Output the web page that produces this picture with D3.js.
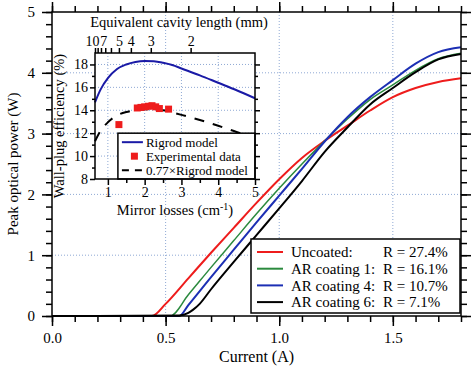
<!DOCTYPE html>
<html>
<head>
<meta charset="utf-8">
<script src="https://cdn.jsdelivr.net/npm/d3@7"></script>
<style>
  body { margin: 0; background: #fff; }
  svg { display: block; }
  .grid line { stroke: #8fa9d4; stroke-width: 1; stroke-dasharray: 1,2; }
  .axis path { display: none; }
  .axis line { stroke: #000; stroke-width: 1.5; }
  .axis text { font-family: 'Liberation Serif', serif; fill: #000; }
  text { font-family: 'Liberation Serif', serif; fill: #000; }
</style>
</head>
<body>
<div id="chart"></div>
<script>
// main plot: peak power vs current
const uncoatedI = [0, 0.44, 0.5, 0.6, 0.7, 0.8, 0.9, 1.0, 1.1, 1.2, 1.3, 1.4, 1.5, 1.6, 1.7, 1.8];
const uncoatedP = [0, 0, 0.2, 0.62, 1.04, 1.45, 1.86, 2.25, 2.6, 2.88, 3.13, 3.38, 3.6, 3.75, 3.85, 3.91];
const ar1I = [0, 0.52, 0.6, 0.7, 0.8, 0.9, 1.0, 1.1, 1.2, 1.3, 1.4, 1.5, 1.6, 1.7, 1.8];
const ar1P = [0, 0, 0.35, 0.8, 1.24, 1.68, 2.1, 2.5, 2.88, 3.24, 3.56, 3.8, 4.04, 4.23, 4.32];
const ar4I = [0, 0.56, 0.6, 0.7, 0.8, 0.9, 1.0, 1.1, 1.2, 1.3, 1.4, 1.5, 1.6, 1.7, 1.8];
const ar4P = [0, 0, 0.18, 0.64, 1.09, 1.54, 1.98, 2.42, 2.87, 3.27, 3.6, 3.88, 4.15, 4.34, 4.42];
const ar6I = [0, 0.56, 0.6, 0.62, 0.65, 0.7, 0.8, 0.9, 1.0, 1.1, 1.2, 1.3, 1.4, 1.5, 1.6, 1.7, 1.8];
const ar6P = [0, 0.01, 0.05, 0.1, 0.2, 0.44, 0.89, 1.33, 1.77, 2.22, 2.7, 3.1, 3.48, 3.75, 4.01, 4.22, 4.31];

const seriesNames = ['Uncoated:', 'AR coating 1:', 'AR coating 4:', 'AR coating 6:'];
const seriesR = ['R = 27.4%', 'R = 16.1%', 'R = 10.7%', 'R = 7.1%'];
const seriesColors = ['#ee1c1c', '#2b8a3e', '#1c2fb4', '#000000'];

const xTicks = [0, 0.5, 1.0, 1.5];
const yTicks = [0, 1, 2, 3, 4, 5];

// inset: wall-plug efficiency vs mirror losses
const lossModel = [0.65, 0.8, 1.0, 1.25, 1.5, 1.75, 2.0, 2.25, 2.5, 2.75, 3.0, 3.5, 4.0, 4.5, 5.0];
const effRigrod = [14.7, 15.8, 16.8, 17.6, 18.0, 18.22, 18.3, 18.28, 18.15, 17.95, 17.65, 17.05, 16.4, 15.75, 15.05];
const effScaled = [11.3, 12.2, 12.95, 13.55, 13.85, 14.0, 14.1, 14.05, 14.0, 13.8, 13.6, 13.15, 12.65, 12.1, 11.6];
const lossExp = [1.3, 1.8, 1.9, 2.0, 2.1, 2.2, 2.3, 2.4, 2.65];
const effExp = [12.75, 14.2, 14.25, 14.3, 14.35, 14.4, 14.3, 14.15, 14.1];

const insetXTicks = [1, 2, 3, 4, 5];
const insetYTicks = [8, 10, 12, 14, 16, 18];
const cavityTicks = [10, 9, 8, 7, 6, 5, 4, 3, 2];
const cavityLabels = [10, 7, 5, 4, 3, 2];
const insetLegend = ['Rigrod model', 'Experimental data', '0.77\u00d7Rigrod model'];

const W = 472;
const H = 368;
const margin = { left: 52, top: 12, right: 11, bottom: 52 };
const width = W - margin.left - margin.right;
const height = H - margin.top - margin.bottom;

const svg = d3.select('#chart').append('svg')
  .attr('width', W)
  .attr('height', H);

const x = d3.scaleLinear().domain([0, 1.8]).range([0, width]);
const y = d3.scaleLinear().domain([0, 5]).range([height, 0]);

const g = svg.append('g')
  .attr('transform', `translate(${margin.left},${margin.top})`);

// grid
const grid = g.append('g').attr('class', 'grid');
grid.selectAll('.gx').data([0.5, 1.0, 1.5]).enter().append('line')
  .attr('x1', (d) => x(d)).attr('x2', (d) => x(d))
  .attr('y1', 0).attr('y2', height);
grid.selectAll('.gy').data([1, 2, 3, 4]).enter().append('line')
  .attr('x1', 0).attr('x2', width)
  .attr('y1', (d) => y(d)).attr('y2', (d) => y(d));

function styleAxis(sel, size) {
  sel.attr('font-size', null).attr('font-family', null);
  sel.selectAll('text').style('font-size', `${size}px`);
}

// main axes, ticks pointing outward
g.append('g').attr('class', 'axis')
  .attr('transform', `translate(0,${height})`)
  .call(d3.axisBottom(x).tickValues(xTicks).tickSize(10).tickPadding(6).tickFormat(d3.format('.1f')))
  .call(styleAxis, 15);
g.append('g').attr('class', 'axis')
  .attr('transform', `translate(0,${height})`)
  .call(d3.axisBottom(x).tickValues(d3.range(0, 1.81, 0.1)).tickSize(6).tickFormat(''));
g.append('g').attr('class', 'axis')
  .call(d3.axisTop(x).tickValues(xTicks).tickSize(10).tickFormat(''));
g.append('g').attr('class', 'axis')
  .call(d3.axisTop(x).tickValues(d3.range(0, 1.81, 0.1)).tickSize(6).tickFormat(''));

g.append('g').attr('class', 'axis')
  .call(d3.axisLeft(y).tickValues(yTicks).tickSize(10).tickPadding(7).tickFormat(d3.format('d')))
  .call(styleAxis, 15);
g.append('g').attr('class', 'axis')
  .call(d3.axisLeft(y).tickValues(d3.range(0, 5.01, 0.2)).tickSize(6).tickFormat(''));
g.append('g').attr('class', 'axis')
  .attr('transform', `translate(${width},0)`)
  .call(d3.axisRight(y).tickValues(yTicks).tickSize(10).tickFormat(''));
g.append('g').attr('class', 'axis')
  .attr('transform', `translate(${width},0)`)
  .call(d3.axisRight(y).tickValues(d3.range(0, 5.01, 0.2)).tickSize(6).tickFormat(''));

svg.append('text')
  .attr('x', margin.left + width / 2)
  .attr('y', 362)
  .attr('text-anchor', 'middle')
  .style('font-size', '16px')
  .text('Current (A)');

svg.append('text')
  .attr('transform', `translate(18,${margin.top + height / 2}) rotate(-90)`)
  .attr('text-anchor', 'middle')
  .style('font-size', '15px')
  .text('Peak optical power (W)');

// ---- inset ----
const inset = { left: 95, top: 53, width: 160, height: 126 };
const xi = d3.scaleLinear().domain([0.65, 5]).range([0, inset.width]);
const yi = d3.scaleLinear().domain([8, 19]).range([inset.height, 0]);
const cavityToLoss = (L) => 6.5 / L;

const ig = svg.append('g')
  .attr('transform', `translate(${inset.left},${inset.top})`);

ig.append('rect')
  .attr('width', inset.width)
  .attr('height', inset.height)
  .attr('fill', '#fff');

const igrid = ig.append('g').attr('class', 'grid');
igrid.selectAll('.gx').data([1, 2, 3, 4]).enter().append('line')
  .attr('x1', (d) => xi(d)).attr('x2', (d) => xi(d))
  .attr('y1', 0).attr('y2', inset.height);
igrid.selectAll('.gy').data([10, 12, 14, 16, 18]).enter().append('line')
  .attr('x1', 0).attr('x2', inset.width)
  .attr('y1', (d) => yi(d)).attr('y2', (d) => yi(d));

const lineI = d3.line()
  .x((d) => xi(d[0]))
  .y((d) => yi(d[1]))
  .curve(d3.curveMonotoneX);

ig.append('path')
  .datum(d3.zip(lossModel, effRigrod))
  .attr('fill', 'none')
  .attr('stroke', '#1a1aa6')
  .attr('stroke-width', 2)
  .attr('d', lineI);

ig.append('path')
  .datum(d3.zip(lossModel, effScaled))
  .attr('fill', 'none')
  .attr('stroke', '#000')
  .attr('stroke-width', 2)
  .attr('stroke-dasharray', '10,9')
  .attr('d', lineI);

ig.selectAll('.exp')
  .data(d3.zip(lossExp, effExp))
  .enter().append('rect')
  .attr('x', (d) => xi(d[0]) - 3.5)
  .attr('y', (d) => yi(d[1]) - 3.5)
  .attr('width', 7)
  .attr('height', 7)
  .attr('fill', '#ee1c1c');

// inset legend
const il = ig.append('g')
  .attr('transform', `translate(${xi(1.3) - 1},${yi(12)})`);
const ilW = inset.width - xi(1.3) + 1;
const ilH = inset.height - yi(12);
il.append('rect')
  .attr('width', ilW)
  .attr('height', ilH)
  .attr('fill', '#fff')
  .attr('stroke', '#000')
  .attr('stroke-width', 1.5);
insetLegend.forEach((name, i) => {
  const ry = 9 + i * 14;
  if (i === 1) {
    il.append('rect')
      .attr('x', 13).attr('y', ry - 3.5)
      .attr('width', 7).attr('height', 7)
      .attr('fill', '#ee1c1c');
  } else {
    il.append('line')
      .attr('x1', 4).attr('x2', 25)
      .attr('y1', ry).attr('y2', ry)
      .attr('stroke', i === 0 ? '#1a1aa6' : '#000')
      .attr('stroke-width', 2)
      .attr('stroke-dasharray', i === 2 ? '7,6' : null);
  }
  il.append('text')
    .attr('x', 28)
    .attr('y', ry)
    .attr('dy', '0.35em')
    .style('font-size', '13px')
    .text(name);
});

ig.append('rect')
  .attr('width', inset.width)
  .attr('height', inset.height)
  .attr('fill', 'none')
  .attr('stroke', '#000')
  .attr('stroke-width', 1.5);

ig.append('g').attr('class', 'axis')
  .attr('transform', `translate(0,${inset.height})`)
  .call(d3.axisBottom(xi).tickValues(insetXTicks).tickSize(6).tickPadding(2).tickFormat(d3.format('d')))
  .call(styleAxis, 14);
ig.append('g').attr('class', 'axis')
  .attr('transform', `translate(0,${inset.height})`)
  .call(d3.axisBottom(xi).tickValues(d3.range(1.5, 5, 1)).tickSize(4).tickFormat(''));
ig.append('g').attr('class', 'axis')
  .call(d3.axisLeft(yi).tickValues(insetYTicks).tickSize(5).tickPadding(2).tickFormat(d3.format('d')))
  .call(styleAxis, 14);
ig.append('g').attr('class', 'axis')
  .call(d3.axisLeft(yi).tickValues(d3.range(9, 19, 2)).tickSize(3).tickFormat(''));
ig.append('g').attr('class', 'axis')
  .attr('transform', `translate(${inset.width},0)`)
  .call(d3.axisRight(yi).tickValues(insetYTicks).tickSize(5).tickFormat(''));
ig.append('g').attr('class', 'axis')
  .attr('transform', `translate(${inset.width},0)`)
  .call(d3.axisRight(yi).tickValues(d3.range(9, 19, 2)).tickSize(3).tickFormat(''));

// top axis: equivalent cavity length
const topAxis = ig.append('g').attr('class', 'axis')
  .call(d3.axisTop(xi)
    .tickValues(cavityTicks.map(cavityToLoss))
    .tickSize(5)
    .tickPadding(2)
    .tickFormat((d) => {
      const L = Math.round(6.5 / d);
      return cavityLabels.includes(L) ? L : '';
    }))
  .call(styleAxis, 14);
topAxis.selectAll('.tick text')
  .attr('dx', (d) => {
    const L = Math.round(6.5 / d);
    if (L === 10) return -3;
    if (L === 7) return -2;
    return 0;
  });

ig.append('text')
  .attr('x', inset.width / 2 + 4)
  .attr('y', -26)
  .attr('text-anchor', 'middle')
  .style('font-size', '14.5px')
  .text('Equivalent cavity length (mm)');

const ml = ig.append('text')
  .attr('x', inset.width / 2)
  .attr('y', inset.height + 36)
  .attr('text-anchor', 'middle')
  .style('font-size', '14.5px');
ml.append('tspan').text('Mirror losses (cm');
ml.append('tspan').attr('dy', -5).style('font-size', '10px').text('-1');
ml.append('tspan').attr('dy', 5).text(')');

ig.append('text')
  .attr('transform', `translate(-31,${inset.height / 2 + 10}) rotate(-90)`)
  .attr('text-anchor', 'middle')
  .style('font-size', '14.5px')
  .text('Wall-plug efficiency (%)');

// ---- main curves ----
const line = d3.line()
  .x((d) => x(d[0]))
  .y((d) => y(d[1]))
  .curve(d3.curveMonotoneX);

const series = [
  d3.zip(uncoatedI, uncoatedP),
  d3.zip(ar1I, ar1P),
  d3.zip(ar4I, ar4P),
  d3.zip(ar6I, ar6P),
];

g.selectAll('.curve')
  .data(series)
  .enter().append('path')
  .attr('class', 'curve')
  .attr('fill', 'none')
  .attr('stroke', (d, i) => seriesColors[i])
  .attr('stroke-width', (d, i) => (i === 1 ? 1.5 : 2))
  .attr('d', line);

// main frame
g.append('rect')
  .attr('width', width)
  .attr('height', height)
  .attr('fill', 'none')
  .attr('stroke', '#000')
  .attr('stroke-width', 1.5);

// main legend
const legend = g.append('g')
  .attr('transform', `translate(${251 - margin.left},${239 - margin.top})`);
legend.append('rect')
  .attr('width', 460 - 251)
  .attr('height', 313 - 239)
  .attr('fill', '#fff')
  .attr('stroke', '#000')
  .attr('stroke-width', 1.5);
seriesNames.forEach((name, i) => {
  const ry = 13 + i * 16.7;
  legend.append('line')
    .attr('x1', 6).attr('x2', 32)
    .attr('y1', ry).attr('y2', ry)
    .attr('stroke', seriesColors[i])
    .attr('stroke-width', 2);
  legend.append('text')
    .attr('x', 40).attr('y', ry).attr('dy', '0.35em')
    .style('font-size', '15px')
    .text(name);
  legend.append('text')
    .attr('x', 132).attr('y', ry).attr('dy', '0.35em')
    .style('font-size', '15px')
    .text(seriesR[i]);
});
</script>
</body>
</html>
